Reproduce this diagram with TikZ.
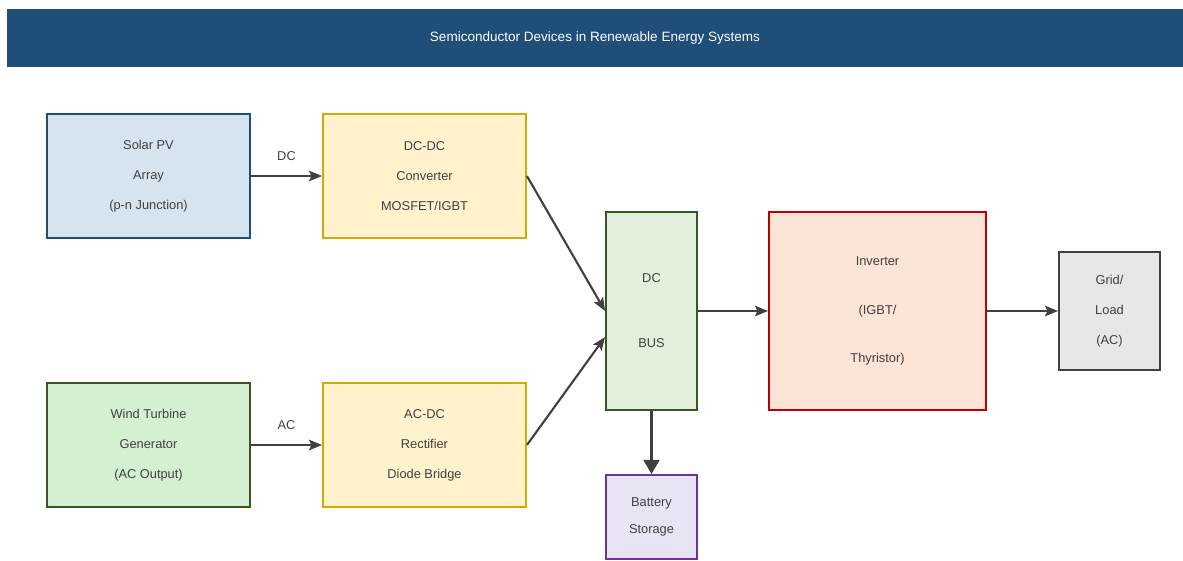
\documentclass[tikz,border=0pt]{standalone}
\usepackage{fontspec}
\setmainfont{Liberation Sans}
\usetikzlibrary{arrows.meta, calc}
\definecolor{titleblue}{HTML}{1F4E79}
\definecolor{txtgray}{HTML}{404040}
\definecolor{solarfill}{HTML}{D6E4F0}
\definecolor{convfill}{HTML}{FFF2CC}
\definecolor{convline}{HTML}{D4A900}
\definecolor{windfill}{HTML}{D5EFD3}
\definecolor{greenline}{HTML}{375623}
\definecolor{busfill}{HTML}{E2EFDA}
\definecolor{invfill}{HTML}{FCE4D6}
\definecolor{invline}{HTML}{C00000}
\definecolor{gridfill}{HTML}{E7E7E7}
\definecolor{battfill}{HTML}{E9E4F4}
\definecolor{battline}{HTML}{7030A0}

\begin{document}
\begin{tikzpicture}[x=0.02cm, y=-0.02cm, font=\fontsize{7.3}{17}\selectfont,
  blk/.style={draw, line width=1.1pt, align=center, text=txtgray, inner sep=0pt},
  src/.style={blk, minimum width=4.06cm, minimum height=2.48cm},
  flow/.style={-{Stealth[length=7.5pt, width=6pt, inset=1.5pt]}, line width=1.2pt, draw=txtgray},
  lbl/.style={text=txtgray, font=\fontsize{7.3}{9}\selectfont}]
\useasboundingbox (0,0) rectangle (1183,561);
\node[fill=titleblue, text=white, minimum width=23.52cm, minimum height=1.18cm, inner sep=0pt, font=\fontsize{7.7}{9}\selectfont] (title) at (595,38) {Semiconductor Devices in Renewable Energy Systems};

\node[src, draw=titleblue, fill=solarfill] (solar) at (148.5,176) {Solar PV\\Array\\(p-n Junction)};
\node[src, draw=convline, fill=convfill] (dcdc) at (424.5,176) {DC-DC\\Converter\\MOSFET/IGBT};
\node[src, draw=greenline, fill=windfill] (wind) at (148.5,445) {Wind Turbine\\Generator\\(AC Output)};
\node[src, draw=convline, fill=convfill] (acdc) at (424.5,445) {AC-DC\\Rectifier\\Diode Bridge};
\node[blk, draw=greenline, fill=busfill, minimum width=1.82cm, minimum height=3.96cm] (bus) at (651.5,311) {DC\\[20pt]BUS};
\node[blk, draw=invline, fill=invfill, minimum width=4.34cm, minimum height=3.96cm] (inv) at (877.5,311) {Inverter\\[10.5pt](IGBT/\\[10.5pt]Thyristor)};
\node[blk, draw=txtgray, fill=gridfill, minimum width=2.02cm, minimum height=2.36cm] (grid) at (1109.5,311) {Grid/\\Load\\(AC)};
\node[blk, draw=battline, fill=battfill, minimum width=1.82cm, minimum height=1.68cm, font=\fontsize{7.3}{15.5}\selectfont] (batt) at (651.5,517) {Battery\\Storage};

\draw[flow] (solar) -- (dcdc) node[lbl, midway, above=5pt] {DC};
\draw[flow] (wind) -- (acdc) node[lbl, midway, above=5pt] {AC};
\draw[flow] (dcdc.east) -- (bus.west);
\draw[flow] (acdc.east) -- ($(bus.west)+(0,26)$);
\draw[flow] (bus) -- (inv);
\draw[flow] (inv) -- (grid);
\draw[-{Stealth[length=8pt, width=9pt, inset=0pt]}, line width=1.3pt, draw=txtgray] (bus) -- (batt);
\end{tikzpicture}
\end{document}
